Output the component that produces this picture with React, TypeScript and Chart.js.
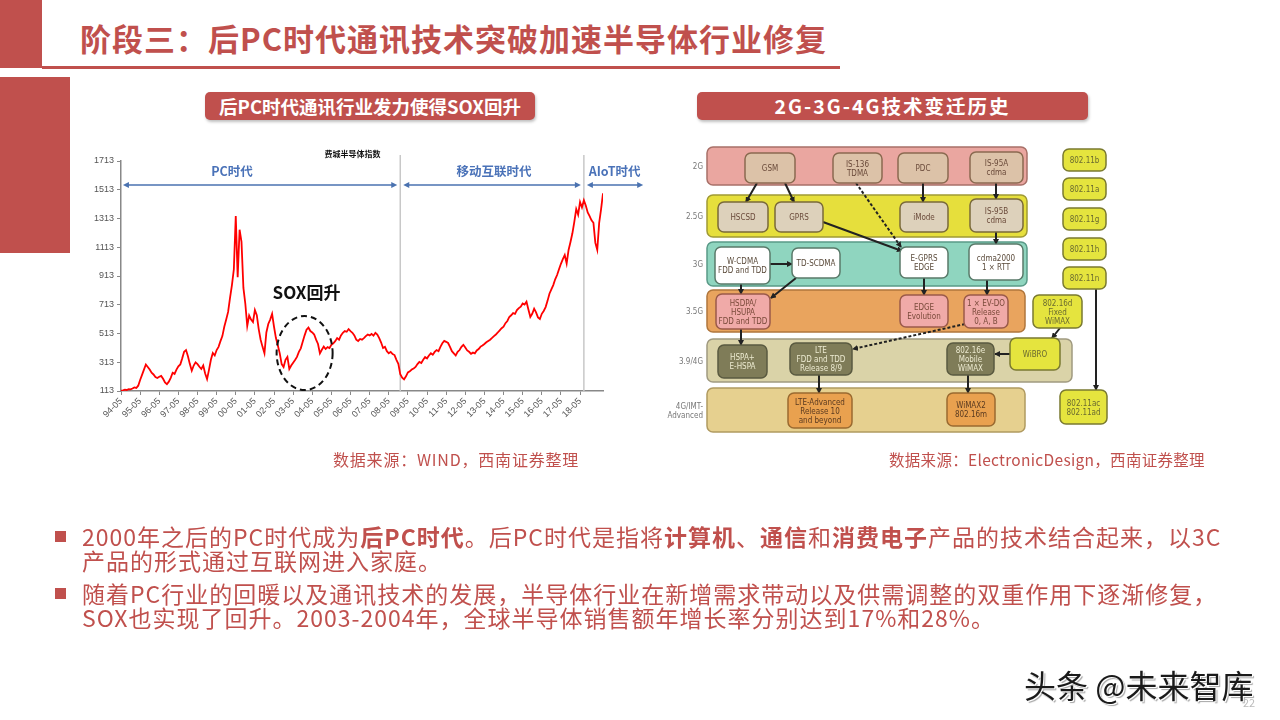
import React, { useEffect, useRef } from 'react';
import { Chart, registerables } from 'chart.js';

Chart.register(...registerables);

// ---------------- data ----------------
const xTickLabels = [
  '94-05', '95-05', '96-05', '97-05', '98-05', '99-05', '00-05', '01-05', '02-05', '03-05',
  '04-05', '05-05', '06-05', '07-05', '08-05', '09-05', '10-05', '11-05', '12-05', '13-05',
  '14-05', '15-05', '16-05', '17-05', '18-05',
];
const yTickValues = [113, 313, 513, 713, 913, 1113, 1313, 1513, 1713];
const sampleStepYears = 0.1; // spacing of samples, in years after 94-05
const soxValues = [
  115, 118, 122, 120, 126, 124, 130, 138, 134, 150,
  190, 225, 262, 297, 280, 262, 240, 228, 210, 203,
  212, 218, 198, 172, 160, 178, 205, 240, 232, 262,
  285, 298, 340, 386, 398, 355, 300, 254, 290, 312,
  300, 282, 266, 290, 235, 196, 260, 330, 377, 360,
  398, 420, 460, 495, 560, 610, 663, 760, 850, 960,
  1330, 905, 1235, 1150, 830, 720, 565, 638, 610, 593,
  676, 640, 544, 470, 420, 375, 520, 579, 610, 650,
  560, 481, 430, 375, 300, 280, 330, 350, 266, 290,
  310, 329, 350, 385, 410, 455, 500, 540, 554, 530,
  520, 506, 470, 440, 375, 400, 422, 405, 418, 412,
  434, 445, 460, 481, 470, 500, 518, 530, 525, 544,
  530, 518, 500, 470, 461, 475, 470, 481, 495, 506,
  500, 510, 498, 518, 505, 481, 450, 412, 420, 390,
  375, 385, 370, 363, 330, 302, 230, 206, 194, 215,
  242, 250, 262, 270, 280, 300, 315, 308, 330, 350,
  340, 360, 375, 365, 385, 398, 390, 420, 445, 461,
  455, 447, 420, 390, 375, 360, 385, 398, 420, 434,
  415, 395, 386, 372, 380, 375, 395, 405, 422, 430,
  440, 452, 461, 470, 482, 495, 506, 520, 535, 550,
  560, 585, 600, 628, 640, 655, 650, 676, 690, 700,
  722, 715, 734, 680, 628, 650, 686, 660, 625, 614,
  650, 670, 697, 740, 790, 820, 850, 890, 920, 960,
  998, 1030, 1059, 1000, 1094, 1150, 1210, 1290, 1379, 1340,
  1428, 1390, 1440, 1404, 1355, 1330, 1300, 1283, 1143, 1094,
  1283, 1379, 1488,
];
const eraNames = ['PC时代', '移动互联时代', 'AIoT时代'];
const eraBoundaries = [14.6, 24.2];
const chartTitle = '费城半导体指数';
const calloutText = 'SOX回升';

const RED = '#c0504d';
const FONT = '"Noto Sans CJK SC", "Noto Sans", sans-serif';

// ---------------- chart ----------------
function SoxChart() {
  const ref = useRef<HTMLCanvasElement>(null);
  useEffect(() => {
    const points = soxValues.map((v, i) => ({ x: Math.round(i * sampleStepYears * 100) / 100, y: v }));
    const xMax = points[points.length - 1].x;

    const drawArrow = (ctx: CanvasRenderingContext2D, x1: number, x2: number, yy: number) => {
      ctx.beginPath();
      ctx.moveTo(x1 + 3, yy);
      ctx.lineTo(x2 - 3, yy);
      ctx.stroke();
      const h = 5;
      ctx.beginPath();
      ctx.moveTo(x1, yy);
      ctx.lineTo(x1 + h + 1, yy - 3);
      ctx.lineTo(x1 + h + 1, yy + 3);
      ctx.closePath();
      ctx.fill();
      ctx.beginPath();
      ctx.moveTo(x2, yy);
      ctx.lineTo(x2 - h - 1, yy - 3);
      ctx.lineTo(x2 - h - 1, yy + 3);
      ctx.closePath();
      ctx.fill();
    };

    const annot = {
      id: 'annot',
      beforeDatasetsDraw(chart: any) {
        const { ctx, scales } = chart;
        const xs = scales.x;
        const ys = scales.y;
        ctx.save();
        ctx.strokeStyle = '#c8c8c8';
        ctx.lineWidth = 1.5;
        eraBoundaries.forEach((bd) => {
          const px = xs.getPixelForValue(bd);
          ctx.beginPath();
          ctx.moveTo(px, 15);
          ctx.lineTo(px, ys.bottom);
          ctx.stroke();
        });
        ctx.restore();
      },
      afterDatasetsDraw(chart: any) {
        const { ctx, scales } = chart;
        const xs = scales.x;
        const ys = scales.y;
        ctx.save();
        ctx.fillStyle = '#111';
        ctx.textAlign = 'center';
        ctx.textBaseline = 'middle';
        ctx.font = `bold 8px ${FONT}`;
        ctx.fillText(chartTitle, xs.getPixelForValue(12.1), 14);

        // era labels
        ctx.fillStyle = '#4a72b8';
        ctx.font = `bold 12.5px ${FONT}`;
        ctx.fillText(eraNames[0], xs.getPixelForValue(5.8), 31);
        ctx.fillText(eraNames[1], xs.getPixelForValue(19.5), 31);
        ctx.textAlign = 'left';
        ctx.fillText(eraNames[2], xs.getPixelForValue(24.45), 31);

        // arrows
        ctx.strokeStyle = '#4a72b0';
        ctx.fillStyle = '#4a72b0';
        ctx.lineWidth = 1.5;
        const ay = 45;
        drawArrow(ctx, xs.getPixelForValue(0.1), xs.getPixelForValue(eraBoundaries[0]) - 3, ay);
        drawArrow(ctx, xs.getPixelForValue(eraBoundaries[0]) + 3, xs.getPixelForValue(eraBoundaries[1]) - 3, ay);
        drawArrow(ctx, xs.getPixelForValue(eraBoundaries[1]) + 3, xs.getPixelForValue(27.3), ay);

        // callout
        ctx.fillStyle = '#111';
        ctx.textAlign = 'center';
        ctx.font = `bold 17px ${FONT}`;
        ctx.fillText(calloutText, xs.getPixelForValue(9.7), ys.getPixelForValue(795));
        ctx.strokeStyle = '#111';
        ctx.lineWidth = 2;
        ctx.setLineDash([6, 4]);
        ctx.beginPath();
        ctx.ellipse(xs.getPixelForValue(9.6), ys.getPixelForValue(377), 28, 37, 0, 0, Math.PI * 2);
        ctx.stroke();
        ctx.restore();
      },
    };

    const chart = new Chart(ref.current as HTMLCanvasElement, {
      type: 'line',
      data: {
        datasets: [
          {
            data: points,
            borderColor: '#ff0000',
            borderWidth: 1.8,
            pointRadius: 0,
            tension: 0,
          },
        ],
      },
      options: {
        animation: false,
        responsive: false,
        layout: { padding: { top: 21, right: 57, left: 0, bottom: 0 } },
        plugins: { legend: { display: false }, tooltip: { enabled: false } },
        scales: {
          x: {
            type: 'linear',
            min: 0,
            max: xMax,
            afterBuildTicks: (s: any) => {
              s.ticks = xTickLabels.map((_, i) => ({ value: i }));
            },
            afterFit: (s: any) => {
              s.height = 79;
            },
            ticks: {
              autoSkip: false,
              minRotation: 45,
              maxRotation: 45,
              padding: 1,
              color: '#555',
              font: { size: 9, family: 'Liberation Sans' },
              callback: (_v: any, i: number) => xTickLabels[i],
            },
            grid: { display: true, drawOnChartArea: false, drawTicks: true, tickLength: 4, color: '#888' },
            border: { display: true, color: '#888', width: 1.5 },
          },
          y: {
            min: 113,
            max: 1713,
            afterBuildTicks: (s: any) => {
              s.ticks = yTickValues.map((v) => ({ value: v }));
            },
            afterFit: (s: any) => {
              s.width = 41;
            },
            ticks: {
              color: '#555',
              padding: 3,
              font: { size: 9, family: 'Liberation Sans' },
              callback: (v: any) => String(v),
            },
            grid: { display: true, drawOnChartArea: false, drawTicks: true, tickLength: 4, color: '#888' },
            border: { display: true, color: '#888', width: 1.5 },
          },
        },
      } as any,
      plugins: [annot],
    });
    return () => chart.destroy();
  }, []);
  return (
    <canvas
      ref={ref}
      width={580}
      height={330}
      style={{ position: 'absolute', left: 80, top: 140, width: 580, height: 330 }}
    />
  );
}

// ---------------- diagram ----------------
type Band = { label: string[]; x: number; y: number; w: number; h: number; fill: string; stroke: string };
const bands: Band[] = [
  { label: ['2G'], x: 707, y: 147, w: 320, h: 38, fill: '#eaa6a0', stroke: '#a87068' },
  { label: ['2.5G'], x: 707, y: 195, w: 320, h: 42, fill: '#e6df3c', stroke: '#a09a34' },
  { label: ['3G'], x: 707, y: 242, w: 320, h: 44, fill: '#8fd5bf', stroke: '#5a9a88' },
  { label: ['3.5G'], x: 707, y: 290, w: 318, h: 42, fill: '#e9a45e', stroke: '#b0763c' },
  { label: ['3.9/4G'], x: 707, y: 339, w: 365, h: 43, fill: '#dad3a8', stroke: '#a09a80' },
  { label: ['4G/IMT-', 'Advanced'], x: 707, y: 388, w: 318, h: 44, fill: '#e6d08f', stroke: '#b09a60' },
];

type Node = { t: string[]; x: number; y: number; w: number; h: number; fill: string; stroke: string; color: string };
const tan = { fill: '#dcc2a8', stroke: '#8a6a50', color: '#6a4a3a' };
const beige = { fill: '#ddd1bb', stroke: '#7a6a3a', color: '#6a4a3a' };
const white = { fill: '#ffffff', stroke: '#5a7a6a', color: '#5a4a3a' };
const pink = { fill: '#f0aaa8', stroke: '#9a5a4a', color: '#7a4a3a' };
const olive = { fill: '#7f7c58', stroke: '#5a5a40', color: '#ecead0' };
const orange = { fill: '#e9a14f', stroke: '#9a6a30', color: '#5a3a20' };
const yellow = { fill: '#e5e43e', stroke: '#7a7a30', color: '#6a6a30' };
const nodes: Node[] = [
  { t: ['GSM'], x: 745, y: 153, w: 50, h: 30, ...tan },
  { t: ['IS-136', 'TDMA'], x: 833, y: 153, w: 49, h: 30, ...tan },
  { t: ['PDC'], x: 898, y: 153, w: 50, h: 30, ...tan },
  { t: ['IS-95A', 'cdma'], x: 970, y: 152, w: 53, h: 31, ...tan },
  { t: ['HSCSD'], x: 718, y: 202, w: 50, h: 30, ...beige },
  { t: ['GPRS'], x: 775, y: 202, w: 48, h: 30, ...beige },
  { t: ['iMode'], x: 900, y: 202, w: 48, h: 30, ...beige },
  { t: ['IS-95B', 'cdma'], x: 970, y: 199, w: 53, h: 33, ...beige },
  { t: ['W-CDMA', 'FDD and TDD'], x: 715, y: 247, w: 55, h: 37, ...white },
  { t: ['TD-SCDMA'], x: 792, y: 248, w: 48, h: 30, ...white },
  { t: ['E-GPRS', 'EDGE'], x: 900, y: 247, w: 48, h: 31, ...white },
  { t: ['cdma2000', '1 × RTT'], x: 969, y: 244, w: 54, h: 36, ...white },
  { t: ['HSDPA/', 'HSUPA', 'FDD and TDD'], x: 716, y: 294, w: 54, h: 35, ...pink },
  { t: ['EDGE', 'Evolution'], x: 900, y: 295, w: 48, h: 32, ...pink },
  { t: ['1 × EV-DO', 'Release', '0, A, B'], x: 964, y: 295, w: 44, h: 33, ...pink },
  { t: ['802.16d', 'Fixed', 'WiMAX'], x: 1033, y: 295, w: 49, h: 33, ...yellow },
  { t: ['HSPA+', 'E-HSPA'], x: 718, y: 345, w: 49, h: 33, ...olive },
  { t: ['LTE', 'FDD and TDD', 'Release 8/9'], x: 790, y: 343, w: 62, h: 32, ...olive },
  { t: ['802.16e', 'Mobile', 'WiMAX'], x: 947, y: 343, w: 47, h: 32, ...olive },
  { t: ['WiBRO'], x: 1010, y: 338, w: 50, h: 32, ...yellow },
  { t: ['LTE-Advanced', 'Release 10', 'and beyond'], x: 788, y: 393, w: 64, h: 35, ...orange },
  { t: ['WiMAX2', '802.16m'], x: 947, y: 393, w: 48, h: 33, ...orange },
  { t: ['802.11b'], x: 1063, y: 149, w: 43, h: 22, ...yellow },
  { t: ['802.11a'], x: 1063, y: 178, w: 43, h: 22, ...yellow },
  { t: ['802.11g'], x: 1063, y: 208, w: 43, h: 22, ...yellow },
  { t: ['802.11h'], x: 1063, y: 238, w: 43, h: 22, ...yellow },
  { t: ['802.11n'], x: 1063, y: 267, w: 43, h: 22, ...yellow },
  { t: ['802.11ac', '802.11ad'], x: 1060, y: 390, w: 47, h: 34, ...yellow },
];

type Link = { x1: number; y1: number; x2: number; y2: number; dashed?: boolean };
const links: Link[] = [
  { x1: 757, y1: 183, x2: 746, y2: 202 },
  { x1: 785, y1: 183, x2: 794, y2: 202 },
  { x1: 823, y1: 222, x2: 902, y2: 251 },
  { x1: 856, y1: 183, x2: 901, y2: 247, dashed: true },
  { x1: 923, y1: 183, x2: 923, y2: 202 },
  { x1: 996, y1: 183, x2: 996, y2: 199 },
  { x1: 996, y1: 232, x2: 996, y2: 244 },
  { x1: 770, y1: 264, x2: 792, y2: 264 },
  { x1: 741, y1: 284, x2: 741, y2: 294 },
  { x1: 796, y1: 278, x2: 771, y2: 298 },
  { x1: 924, y1: 278, x2: 924, y2: 295 },
  { x1: 987, y1: 280, x2: 987, y2: 295 },
  { x1: 965, y1: 324, x2: 853, y2: 349, dashed: true },
  { x1: 741, y1: 329, x2: 741, y2: 345 },
  { x1: 819, y1: 375, x2: 819, y2: 393 },
  { x1: 968, y1: 375, x2: 968, y2: 393 },
  { x1: 1010, y1: 354, x2: 995, y2: 354 },
  { x1: 1060, y1: 328, x2: 1052, y2: 338 },
  { x1: 1096, y1: 289, x2: 1096, y2: 390 },
];

const DFONT = '"Liberation Sans Narrow", "DejaVu Sans Condensed", sans-serif';

function Diagram() {
  return (
    <svg
      width={1280}
      height={720}
      style={{ position: 'absolute', left: 0, top: 0, pointerEvents: 'none' }}
    >
      <defs>
        <marker id="ah" markerWidth="6" markerHeight="6" refX="5" refY="3" orient="auto" markerUnits="userSpaceOnUse">
          <path d="M0,0 L6,3 L0,6 z" fill="#222" />
        </marker>
      </defs>
      {bands.map((bd, i) => (
        <g key={'b' + i}>
          <rect x={bd.x} y={bd.y} width={bd.w} height={bd.h} rx={6} fill={bd.fill} stroke={bd.stroke} strokeWidth={1.5} />
          {bd.label.map((l, j) => (
            <text
              key={j}
              x={703}
              y={bd.y + bd.h / 2 + 3 + (j - (bd.label.length - 1) / 2) * 9}
              textAnchor="end"
              fontSize={8}
              fill="#777"
              fontFamily={DFONT}
            >
              {l}
            </text>
          ))}
        </g>
      ))}
      {links.map((l, i) => (
        <line
          key={'l' + i}
          x1={l.x1}
          y1={l.y1}
          x2={l.x2}
          y2={l.y2}
          stroke="#222"
          strokeWidth={2}
          strokeDasharray={l.dashed ? '3,2' : undefined}
          markerEnd="url(#ah)"
        />
      ))}
      {nodes.map((n, i) => (
        <g key={'n' + i}>
          <rect x={n.x} y={n.y} width={n.w} height={n.h} rx={6} fill={n.fill} stroke={n.stroke} strokeWidth={1.5} />
          {n.t.map((l, j) => (
            <text
              key={j}
              x={n.x + n.w / 2}
              y={n.y + n.h / 2 + 3 + (j - (n.t.length - 1) / 2) * 9}
              textAnchor="middle"
              fontSize={8}
              fill={n.color}
              fontFamily={DFONT}
            >
              {l}
            </text>
          ))}
        </g>
      ))}
    </svg>
  );
}

// ---------------- page ----------------
const b = (s: string) => <span style={{ fontWeight: 700 }}>{s}</span>;

export default function App() {
  const lineStyle: React.CSSProperties = {
    position: 'absolute',
    left: 82,
    fontSize: 23,
    lineHeight: '24px',
    letterSpacing: 1,
    color: RED,
    whiteSpace: 'nowrap',
  };
  const square = (top: number): React.CSSProperties => ({
    position: 'absolute',
    left: 55,
    top,
    width: 11,
    height: 11,
    background: RED,
  });
  const pill: React.CSSProperties = {
    position: 'absolute',
    top: 92,
    height: 28,
    borderRadius: 5,
    background: RED,
    color: '#fff',
    fontWeight: 700,
    lineHeight: '28px',
    textAlign: 'center',
    whiteSpace: 'nowrap',
    boxShadow: '1px 2px 3px rgba(0,0,0,0.25)',
  };
  return (
    <div
      style={{
        position: 'absolute',
        left: 0,
        top: 0,
        width: 1280,
        height: 720,
        overflow: 'hidden',
        background: '#fff',
        fontFamily: FONT,
      }}
    >
      <div style={{ position: 'absolute', left: 0, top: 0, width: 42, height: 68, background: RED }} />
      <div style={{ position: 'absolute', left: 0, top: 77, width: 70, height: 176, background: RED }} />
      <div
        style={{
          position: 'absolute',
          left: 80,
          top: 20,
          fontSize: 31,
          fontWeight: 700,
          lineHeight: '36px',
          letterSpacing: 1,
          color: RED,
          whiteSpace: 'nowrap',
        }}
      >
        阶段三：后PC时代通讯技术突破加速半导体行业修复
      </div>
      <div style={{ position: 'absolute', left: 42, top: 66, width: 798, height: 3, background: RED }} />

      <div style={{ ...pill, left: 205, width: 330, fontSize: 18.5 }}>后PC时代通讯行业发力使得SOX回升</div>
      <div style={{ ...pill, left: 697, width: 391, fontSize: 19.5, letterSpacing: 2 }}>2G-3G-4G技术变迁历史</div>

      <SoxChart />
      <Diagram />

      <div
        style={{
          position: 'absolute',
          left: 333,
          top: 449,
          fontSize: 16,
          letterSpacing: 0.8,
          lineHeight: '20px',
          color: RED,
          whiteSpace: 'nowrap',
        }}
      >
        数据来源：WIND，西南证券整理
      </div>
      <div
        style={{
          position: 'absolute',
          left: 889,
          top: 449,
          fontSize: 15.5,
          letterSpacing: 0.3,
          lineHeight: '20px',
          color: RED,
          whiteSpace: 'nowrap',
        }}
      >
        数据来源：ElectronicDesign，西南证券整理
      </div>

      <div style={square(531)} />
      <div style={{ ...lineStyle, top: 524 }}>
        2000年之后的PC时代成为{b('后PC时代')}。后PC时代是指将{b('计算机')}、{b('通信')}和{b('消费电子')}产品的技术结合起来，以3C
      </div>
      <div style={{ ...lineStyle, top: 548 }}>产品的形式通过互联网进入家庭。</div>
      <div style={square(588)} />
      <div style={{ ...lineStyle, top: 581 }}>
        随着PC行业的回暖以及通讯技术的发展，半导体行业在新增需求带动以及供需调整的双重作用下逐渐修复，
      </div>
      <div style={{ ...lineStyle, top: 605 }}>SOX也实现了回升。2003-2004年，全球半导体销售额年增长率分别达到17%和28%。</div>

      <div
        style={{
          position: 'absolute',
          left: 1024,
          top: 664,
          fontSize: 32,
          lineHeight: '40px',
          color: '#1a1a1a',
          whiteSpace: 'nowrap',
          textShadow: '1px 1px 0 #fff, 2px 2px 1px rgba(0,0,0,0.35)',
        }}
      >
        头条 @未来智库
      </div>
      <div style={{ position: 'absolute', left: 1243, top: 694, fontSize: 11, color: '#bbb' }}>22</div>
    </div>
  );
}
